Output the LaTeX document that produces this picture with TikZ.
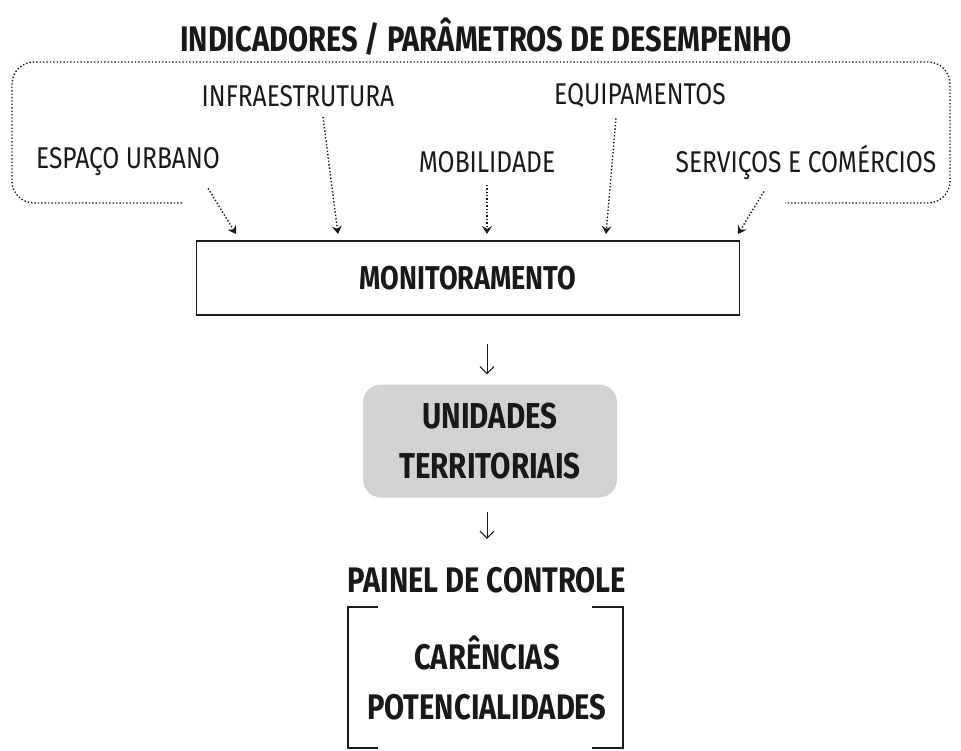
\documentclass[tikz,border=0pt]{standalone}
\usepackage{fontspec}
\setmainfont{Fira Sans}[FakeStretch=0.82]
\usepackage{tikz}
\usetikzlibrary{positioning, arrows.meta}
\definecolor{BoxGray}{RGB}{210,210,210}
\definecolor{InkColor}{RGB}{25,25,25}

\begin{document}
\begin{tikzpicture}[x=1pt, y=-1pt, text=InkColor,
    lbl/.style={font=\fontsize{30}{34}\selectfont, inner sep=0pt},
    hdr/.style={font=\bfseries\fontsize{35.5}{40}\selectfont, inner sep=0pt},
    feed/.style={draw=InkColor, dotted, line width=1.4pt, -{Stealth[length=8pt, width=10pt, inset=3pt]}},
    step arrow/.style={draw=InkColor, line width=1pt, -{Straight Barb[length=7pt, width=14pt]}}]
  \useasboundingbox (0,0) rectangle (961,751);

  % header and outline
  \node[hdr] (title) at (486,37) {INDICADORES / PARÂMETROS DE DESEMPENHO};
  \draw[InkColor, dotted, line width=1.4pt, rounded corners=22pt]
    (182,203) -- (12,203) -- (12,62) -- (950,62) -- (950,203) -- (785,203);

  % indicators
  \node[lbl] (infra)    at (298,96)  {INFRAESTRUTURA};
  \node[lbl] (equip)    at (640,96)  {EQUIPAMENTOS};
  \node[lbl] (espaco)   at (128,162) {ESPAÇO URBANO};
  \node[lbl] (mobil)    at (487,162) {MOBILIDADE};
  \node[lbl] (servicos) at (806,162) {SERVIÇOS E COMÉRCIOS};

  \node[draw=InkColor, line width=1.2pt, minimum width=543pt, minimum height=74pt,
        font=\bfseries\fontsize{33}{36}\selectfont] (monit) at (468,278) {MONITORAMENTO};

  \coordinate (m1) at (236,234);
  \coordinate (m2) at (338,234);
  \coordinate (m3) at (487,234);
  \coordinate (m4) at (606,234);
  \coordinate (m5) at (738,234);
  \draw[feed] (espaco.south east) ++(-12,12) -- (m1);
  \draw[feed] (infra.south) ++(25,10) -- (m2);
  \draw[feed] (mobil.south) ++(0,12) -- (m3);
  \draw[feed] (equip.south) ++(-24,10) -- (m4);
  \draw[feed] (servicos.south) ++(-42,12) -- (m5);

  % units
  \node[fill=BoxGray, rounded corners=18pt, minimum width=254pt, minimum height=113pt,
        align=center, font=\bfseries\fontsize{36}{50}\selectfont] (unid) at (490,441)
        {UNIDADES\\TERRITORIAIS};

  % panel
  \node[hdr] (painel) at (487,580) {PAINEL DE CONTROLE};
  \node[hdr] (carencias) at (487,653) {CARÊNCIAS};
  \node[hdr] (potenc) at (487,707) {POTENCIALIDADES};
  \draw[InkColor, line width=1.6pt] (378,607) -- (348,607) -- (348,748) -- (378,748);
  \draw[InkColor, line width=1.6pt] (592,607) -- (623,607) -- (623,748) -- (592,748);

  \draw[step arrow] ([yshift=-28pt]monit.south -| painel.north) -- ([yshift=10pt]unid.north -| painel.north);
  \draw[step arrow] ([yshift=-14pt]unid.south -| painel.north) -- ([yshift=28pt]painel.north);
\end{tikzpicture}
\end{document}
